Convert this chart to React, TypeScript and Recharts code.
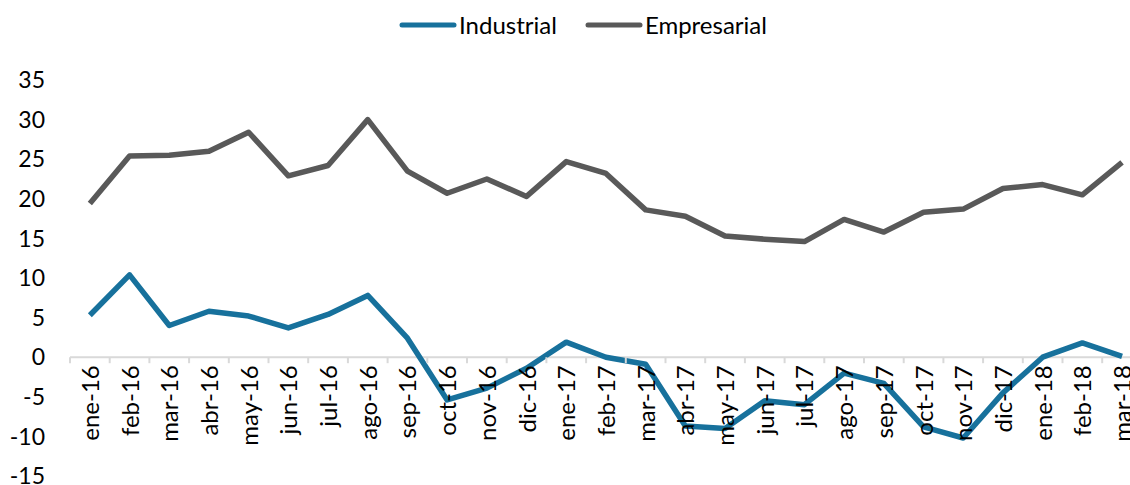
import React from "react";
import { LineChart, Line, XAxis, YAxis, Legend, ReferenceLine } from "recharts";

const months = [
  "ene-16", "feb-16", "mar-16", "abr-16", "may-16", "jun-16", "jul-16", "ago-16", "sep-16",
  "oct-16", "nov-16", "dic-16", "ene-17", "feb-17", "mar-17", "abr-17", "may-17", "jun-17",
  "jul-17", "ago-17", "sep-17", "oct-17", "nov-17", "dic-17", "ene-18", "feb-18", "mar-18",
];

const industrial = [
  5.3, 10.4, 4.0, 5.8, 5.2, 3.7, 5.4, 7.8, 2.4,
  -5.4, -3.9, -1.4, 1.9, 0.0, -0.9, -8.7, -9.0, -5.5,
  -6.0, -2.0, -3.3, -8.8, -10.2, -4.5, 0.0, 1.8, 0.1,
];

const empresarial = [
  19.4, 25.4, 25.5, 26.0, 28.4, 22.9, 24.2, 30.0, 23.5,
  20.7, 22.5, 20.3, 24.7, 23.2, 18.6, 17.8, 15.3, 14.9,
  14.6, 17.4, 15.8, 18.3, 18.7, 21.3, 21.8, 20.5, 24.6,
];

const yTicks = [-15, -10, -5, 0, 5, 10, 15, 20, 25, 30, 35];

const data = months.map((m, i) => ({ month: m, Industrial: industrial[i], Empresarial: empresarial[i] }));

const FONT = "Lato, 'Noto Sans', sans-serif";
const W = 1130;
const H = 485;
const PLOT_LEFT = 70;
const PLOT_TOP = 80;
const PLOT_BOTTOM = 476;
const Y_MIN = -15;
const Y_MAX = 35;
const CAT_W = 39.7;
// the last category runs past the right edge of the picture
const OVERFLOW = PLOT_LEFT + months.length * CAT_W - W;
const ZERO_Y = PLOT_TOP + ((PLOT_BOTTOM - PLOT_TOP) * (Y_MAX - 0)) / (Y_MAX - Y_MIN);
const COLORS = { Industrial: "#17719c", Empresarial: "#595959" };

function MonthTick(props: any) {
  const { x, payload } = props;
  return (
    <g>
      <line x1={x - CAT_W / 2} x2={x - CAT_W / 2} y1={ZERO_Y} y2={ZERO_Y + 6} stroke="#d9d9d9" strokeWidth={2} />
      <text
        transform={`translate(${x + 9},${ZERO_Y + 8}) rotate(-90)`}
        textAnchor="end"
        fontSize={24}
        fill="#000"
        fontFamily={FONT}
      >
        {payload.value}
      </text>
    </g>
  );
}

function LegendContent() {
  const items = ["Industrial", "Empresarial"] as const;
  return (
    <div style={{ display: "flex", justifyContent: "center", paddingLeft: 36, fontFamily: FONT, fontSize: 24 }}>
      {items.map((k) => (
        <div key={k} style={{ display: "flex", alignItems: "center", marginRight: k === "Industrial" ? 28 : 0 }}>
          <svg width={58} height={10}>
            <line x1={3} x2={55} y1={5} y2={5} stroke={COLORS[k]} strokeWidth={5} strokeLinecap="round" />
          </svg>
          <span style={{ color: "#000", marginLeft: 2 }}>{k}</span>
        </div>
      ))}
    </div>
  );
}

export default function App() {
  return (
    <div style={{ position: "absolute", left: 0, top: 0, width: W, height: H, background: "#fff", overflow: "hidden" }}>
      <LineChart
        width={W}
        height={H}
        data={data}
        margin={{ top: 10, right: 0, bottom: H - PLOT_BOTTOM - 1, left: 0 }}
      >
        <Legend verticalAlign="top" height={PLOT_TOP - 10} content={<LegendContent />} />
        <YAxis
          type="number"
          domain={[Y_MIN, Y_MAX]}
          ticks={yTicks}
          interval={0}
          width={PLOT_LEFT}
          axisLine={false}
          tickLine={false}
          tickSize={0}
          tickMargin={25}
          tick={{ fontSize: 23, fill: "#000", fontFamily: FONT }}
        />
        <XAxis
          dataKey="month"
          interval={0}
          height={1}
          padding={{ left: CAT_W / 2, right: CAT_W / 2 - OVERFLOW }}
          axisLine={false}
          tickLine={false}
          tick={<MonthTick />}
        />
        <ReferenceLine y={0} stroke="#d9d9d9" strokeWidth={2} />
        <Line
          dataKey="Industrial"
          stroke={COLORS.Industrial}
          strokeWidth={5.5}
          dot={false}
          isAnimationActive={false}
          strokeLinejoin="round"
        />
        <Line
          dataKey="Empresarial"
          stroke={COLORS.Empresarial}
          strokeWidth={5.5}
          dot={false}
          isAnimationActive={false}
          strokeLinejoin="round"
        />
      </LineChart>
    </div>
  );
}
